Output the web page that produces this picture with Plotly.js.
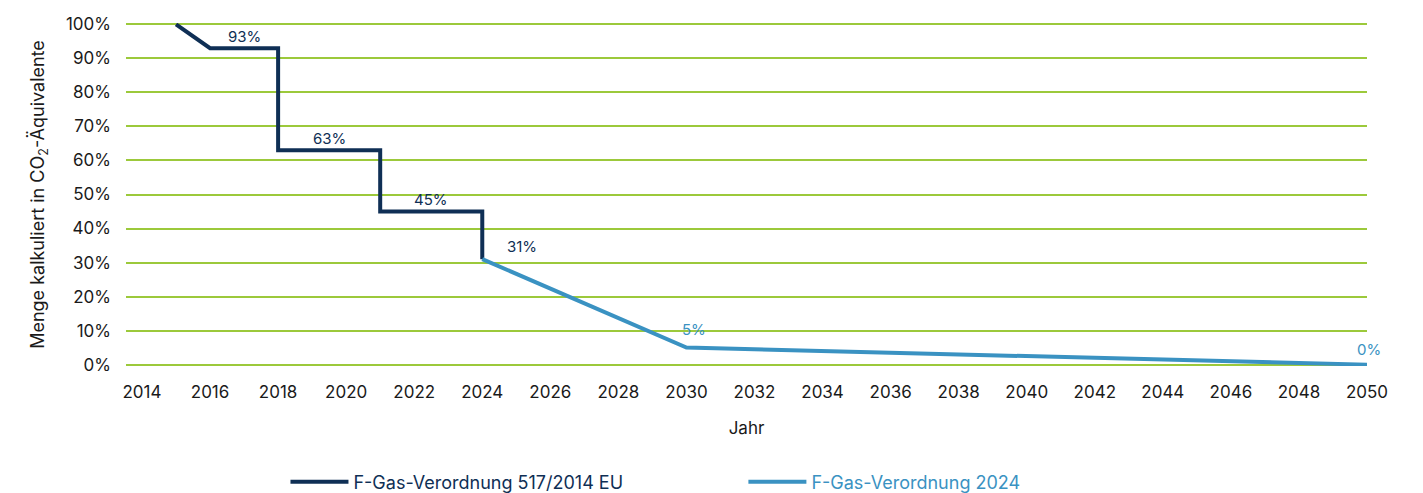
<!DOCTYPE html>
<html>
<head>
<meta charset="utf-8">
<script src="https://cdn.plot.ly/plotly-3.0.1.min.js"></script>
<style>html,body{margin:0;padding:0;background:#fff;}#chart{width:1423px;height:493px;}</style>
</head>
<body>
<div id="chart"></div>
<script>
// Data
const oldYears = [2015, 2016, 2018, 2021, 2024];
const oldValues = [1.00, 0.93, 0.63, 0.45, 0.31];
const newYears = [2024, 2030, 2050];
const newValues = [0.31, 0.05, 0.00];
const oldName = 'F-Gas-Verordnung 517/2014 EU';
const newName = 'F-Gas-Verordnung 2024';
const xTicks = [2014, 2016, 2018, 2020, 2022, 2024, 2026, 2028, 2030, 2032, 2034, 2036, 2038, 2040, 2042, 2044, 2046, 2048, 2050];

const darkColor = '#0f2f55';
const blueColor = '#3a92c2';
const gridColor = '#9cc93b';
const textColor = '#1a1a1a';
const font = 'Inter, "Open Sans", sans-serif';

// Build the step path of the old regulation: first segment linear, then horizontal-vertical steps
const oldX = [oldYears[0], oldYears[1]];
const oldY = [oldValues[0], oldValues[1]];
for (let i = 2; i < oldYears.length; i++) {
  oldX.push(oldYears[i], oldYears[i]);
  oldY.push(oldValues[i - 1], oldValues[i]);
}

const traces = [
  {x: oldX, y: oldY, type: 'scatter', mode: 'lines', name: oldName, legend: 'legend',
   line: {color: darkColor, width: 4}, cliponaxis: false},
  {x: newYears, y: newValues, type: 'scatter', mode: 'lines', name: newName, legend: 'legend2',
   line: {color: blueColor, width: 4}, cliponaxis: false}
];

const pct = v => Math.round(v * 100) + '%';
const annotations = [];
// labels on step plateaus (midpoint of each horizontal segment)
for (let i = 1; i < oldYears.length - 1; i++) {
  annotations.push({x: (oldYears[i] + oldYears[i + 1]) / 2, y: oldValues[i], text: pct(oldValues[i]),
    showarrow: false, yshift: 12, font: {family: font, size: 15, color: darkColor}});
}
annotations.push({x: oldYears[oldYears.length - 1], y: oldValues[oldValues.length - 1], text: pct(oldValues[oldValues.length - 1]),
  showarrow: false, xshift: 40, yshift: 13, font: {family: font, size: 15, color: darkColor}});
annotations.push({x: newYears[1], y: newValues[1], text: pct(newValues[1]),
  showarrow: false, xshift: 8, yshift: 18, font: {family: font, size: 15, color: blueColor}});
annotations.push({x: newYears[2], y: newValues[2], text: pct(newValues[2]),
  showarrow: false, xshift: 2, yshift: 15, font: {family: font, size: 15, color: blueColor}});

const layout = {
  width: 1423, height: 493,
  margin: {l: 126, r: 56, t: 23, b: 127, autoexpand: false},
  paper_bgcolor: '#fff', plot_bgcolor: '#fff',
  font: {family: font, size: 17, color: textColor},
  showlegend: true,
  legend: {orientation: 'h', x: 0.1285, xanchor: 'left', y: -0.338, yanchor: 'middle',
    font: {family: font, size: 18, color: darkColor}, itemwidth: 58, bgcolor: 'rgba(0,0,0,0)'},
  legend2: {orientation: 'h', x: 0.4975, xanchor: 'left', y: -0.338, yanchor: 'middle',
    font: {family: font, size: 18, color: blueColor}, itemwidth: 58, bgcolor: 'rgba(0,0,0,0)'},
  xaxis: {range: [2013.53, 2050], tickvals: xTicks, ticktext: xTicks.map(String), showgrid: false, zeroline: false,
    showline: false, ticks: '', ticklabelstandoff: 14, automargin: false, tickfont: {family: font, size: 17, color: textColor},
    title: {text: 'Jahr', font: {family: font, size: 17, color: textColor}, standoff: 21}},
  yaxis: {range: [-0.004, 1.004], tickvals: [0, 0.1, 0.2, 0.3, 0.4, 0.5, 0.6, 0.7, 0.8, 0.9, 1.0], tickformat: '.0%',
    showgrid: true, gridcolor: gridColor, gridwidth: 2, automargin: false,
    zeroline: false, showline: false, ticks: '', ticklabelstandoff: 14, tickfont: {family: font, size: 17, color: textColor},
    title: {text: 'Menge kalkuliert in CO<sub>2</sub>-Äquivalente', font: {family: font, size: 18, color: textColor}, standoff: 16}},
  annotations: annotations
};

Plotly.newPlot('chart', traces, layout, {displayModeBar: false, staticPlot: true});
</script>
</body>
</html>
